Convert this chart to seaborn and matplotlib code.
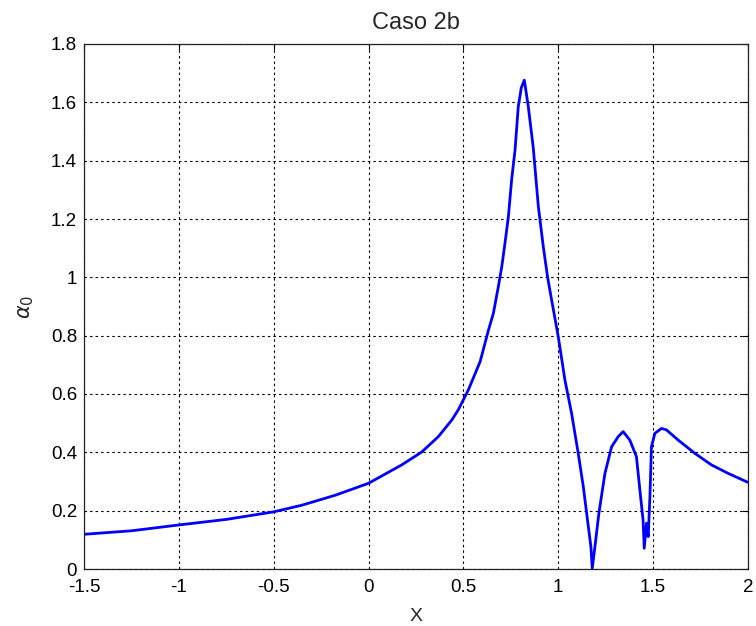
import matplotlib
matplotlib.use("Agg")
import matplotlib.pyplot as plt
import seaborn as sns
import pandas as pd

# ---- data ----
x_vals = [-1.5, -1.25, -1.0, -0.75, -0.5, -0.35, -0.175, 0.0, 0.175, 0.28,
          0.368, 0.439, 0.474, 0.526, 0.588, 0.632, 0.658, 0.684, 0.702, 0.719,
          0.737, 0.754, 0.772, 0.789, 0.805, 0.821, 0.842, 0.868, 0.895, 0.921,
          0.944, 0.965, 1.0, 1.035, 1.07, 1.105, 1.132, 1.154, 1.172, 1.179,
          1.193, 1.214, 1.246, 1.281, 1.316, 1.342, 1.377, 1.412, 1.430, 1.447,
          1.453, 1.465, 1.474, 1.483, 1.491, 1.509, 1.544, 1.57, 1.632, 1.719,
          1.807, 1.895, 2.0]
alpha0 = [0.119, 0.131, 0.151, 0.170, 0.196, 0.219, 0.253, 0.294, 0.357, 0.401,
          0.454, 0.511, 0.547, 0.614, 0.711, 0.819, 0.877, 0.968, 1.036, 1.117,
          1.208, 1.334, 1.436, 1.585, 1.65, 1.676, 1.585, 1.445, 1.242, 1.105,
          0.999, 0.922, 0.796, 0.648, 0.534, 0.397, 0.282, 0.168, 0.076, 0.002,
          0.076, 0.191, 0.328, 0.419, 0.454, 0.471, 0.442, 0.385, 0.271, 0.168,
          0.071, 0.157, 0.111, 0.248, 0.419, 0.465, 0.482, 0.477, 0.442, 0.397,
          0.357, 0.328, 0.297]

x_ticks = [-1.5, -1.0, -0.5, 0.0, 0.5, 1.0, 1.5, 2.0]
x_ticklabels = ["-1.5", "-1", "-0.5", "0", "0.5", "1", "1.5", "2"]
y_ticks = [0.0, 0.2, 0.4, 0.6, 0.8, 1.0, 1.2, 1.4, 1.6, 1.8]
y_ticklabels = ["0", "0.2", "0.4", "0.6", "0.8", "1", "1.2", "1.4", "1.6", "1.8"]

title = "Caso 2b"
xlabel = "X"
ylabel = r"$\alpha_0$"

sns.set_style("white")
plt.rcParams["font.family"] = ["Liberation Sans", "DejaVu Sans"]

df = pd.DataFrame({"x": x_vals, "a": alpha0})

fig = plt.figure(figsize=(7.56, 6.26), dpi=100)
ax = fig.add_axes([84 / 756, 57 / 626, 664 / 756, 525 / 626])

sns.lineplot(data=df, x="x", y="a", ax=ax, color="#0000ff", linewidth=2.0,
             sort=False, estimator=None)

ax.set_xlim(-1.5, 2.0)
ax.set_ylim(0, 1.8)
ax.set_xticks(x_ticks)
ax.set_xticklabels(x_ticklabels)
ax.set_yticks(y_ticks)
ax.set_yticklabels(y_ticklabels)

ax.grid(True, color="black", linestyle=(0, (2.2, 2.8)), linewidth=0.8)
ax.tick_params(direction="in", length=4, width=0.8, top=True, right=True,
               labelsize=13.5, colors="black")
ax.tick_params(axis="x", pad=7.5)
ax.tick_params(axis="y", pad=5)
for s in ax.spines.values():
    s.set_visible(True)
    s.set_color("#222222")
    s.set_linewidth(0.9)

ax.set_title(title, fontsize=17, pad=11)
ax.set_xlabel(xlabel, fontsize=14, labelpad=8)
ax.set_ylabel(ylabel, fontsize=15, labelpad=11)

fig.savefig("out.png", dpi=100)
